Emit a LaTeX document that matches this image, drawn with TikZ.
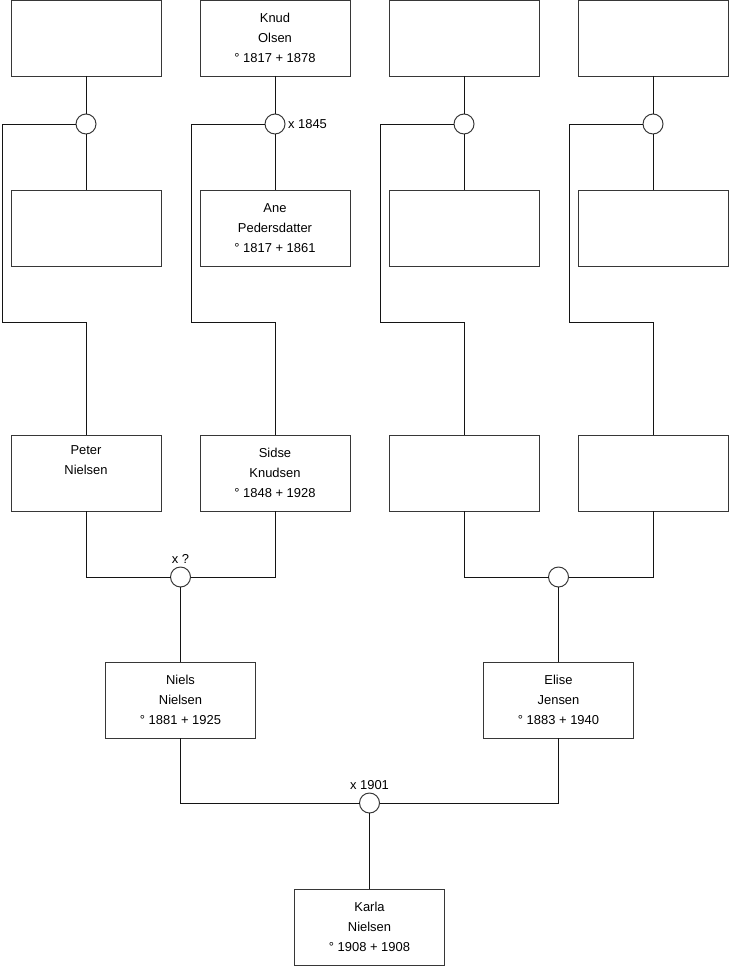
\documentclass[tikz,border=0pt]{standalone}
\usepackage{fontspec}
\setmainfont{Liberation Sans}
\usetikzlibrary{positioning, calc}
\definecolor{personborder}{RGB}{55,55,55}
\definecolor{linkline}{RGB}{20,20,20}
\tikzset{
  personbox/.style={
    rectangle, fill=white, draw=personborder, line width=0.7pt,
    minimum width=3.75cm, minimum height=1.9cm, align=center,
    font=\fontsize{9.2}{14.2}\selectfont, inner sep=2pt, outer sep=0pt},
  marriage/.style={
    circle, fill=white, draw=personborder, line width=0.7pt,
    minimum size=0.5cm, inner sep=0pt, outer sep=0pt},
  wedtext/.style={font=\fontsize{9.2}{11}\selectfont, inner sep=2pt},
  link/.style={line width=0.7pt, color=linkline}
}
\begin{document}
\begin{tikzpicture}[node distance=1.4cm and 0.975cm]
  \useasboundingbox (0,0) rectangle (18.5,-24.375);

  %% Row 1: great-grandfathers
  \node[personbox] (peterF) at (2.15,-0.95) {};
  \node[personbox, right=of peterF] (knud) {Knud\\Olsen\\° 1817 + 1878};
  \node[personbox, right=of knud] (efF) {};
  \node[personbox, right=of efF] (emF) {};

  %% marriages of the great-grandparents
  \node[marriage, below=0.95cm of peterF] (uPeter) {};
  \node[marriage, below=0.95cm of knud,
        label={[wedtext]right:x 1845}] (uSidse) {};
  \node[marriage, below=0.95cm of efF] (uEfather) {};
  \node[marriage, below=0.95cm of emF] (uEmother) {};

  %% Row 2: great-grandmothers
  \node[personbox, below=of uPeter] (peterM) {};
  \node[personbox, below=of uSidse] (ane) {Ane\\Pedersdatter\\° 1817 + 1861};
  \node[personbox, below=of uEfather] (efM) {};
  \node[personbox, below=of uEmother] (emM) {};

  %% Row 3: grandparents
  \node[personbox, below=4.225cm of peterM] (peter) {Peter\\Nielsen\\\strut};
  \node[personbox, below=4.225cm of ane] (sidse) {Sidse\\Knudsen\\° 1848 + 1928};
  \node[personbox, below=4.225cm of efM] (efather) {};
  \node[personbox, below=4.225cm of emM] (emother) {};

  \node[marriage, label={[wedtext]above:x ?}]
    (uNiels) at ($(peter.south)!0.5!(sidse.south)+(0,-1.65)$) {};
  \node[marriage]
    (uElise) at ($(efather.south)!0.5!(emother.south)+(0,-1.65)$) {};

  %% Row 4: parents
  \node[personbox, below=1.875cm of uNiels] (niels) {Niels\\Nielsen\\° 1881 + 1925};
  \node[personbox, below=1.875cm of uElise] (elise) {Elise\\Jensen\\° 1883 + 1940};

  \node[marriage, label={[wedtext]above:x 1901}]
    (uKarla) at ($(niels.south)!0.5!(elise.south)+(0,-1.625)$) {};

  %% Row 5: proband
  \node[personbox, below=1.9cm of uKarla] (karla) {Karla\\Nielsen\\° 1908 + 1908};

  %% corners of the child lines
  \coordinate (cPeter)   at ($(peterM.south west)+(-0.225,-1.4)$);
  \coordinate (cSidse)   at ($(ane.south west)+(-0.225,-1.4)$);
  \coordinate (cEfather) at ($(efM.south west)+(-0.225,-1.4)$);
  \coordinate (cEmother) at ($(emM.south west)+(-0.225,-1.4)$);

  %% Links: couples
  \draw[link] (peterF) -- (uPeter);
  \draw[link] (uPeter) -- (peterM);
  \draw[link] (knud)   -- (uSidse);
  \draw[link] (uSidse) -- (ane);
  \draw[link] (efF)    -- (uEfather);
  \draw[link] (uEfather) -- (efM);
  \draw[link] (emF)    -- (uEmother);
  \draw[link] (uEmother) -- (emM);

  %% Links: children of the great-grandparents
  \draw[link] (uPeter.west)   -| (cPeter)   -| (peter.north);
  \draw[link] (uSidse.west)   -| (cSidse)   -| (sidse.north);
  \draw[link] (uEfather.west) -| (cEfather) -| (efather.north);
  \draw[link] (uEmother.west) -| (cEmother) -| (emother.north);

  %% Links: grandparents and parents
  \draw[link] (peter.south)   |- (uNiels.west);
  \draw[link] (sidse.south)   |- (uNiels.east);
  \draw[link] (uNiels) -- (niels);
  \draw[link] (efather.south) |- (uElise.west);
  \draw[link] (emother.south) |- (uElise.east);
  \draw[link] (uElise) -- (elise);
  \draw[link] (niels.south)   |- (uKarla.west);
  \draw[link] (elise.south)   |- (uKarla.east);
  \draw[link] (uKarla) -- (karla);

\end{tikzpicture}
\end{document}
